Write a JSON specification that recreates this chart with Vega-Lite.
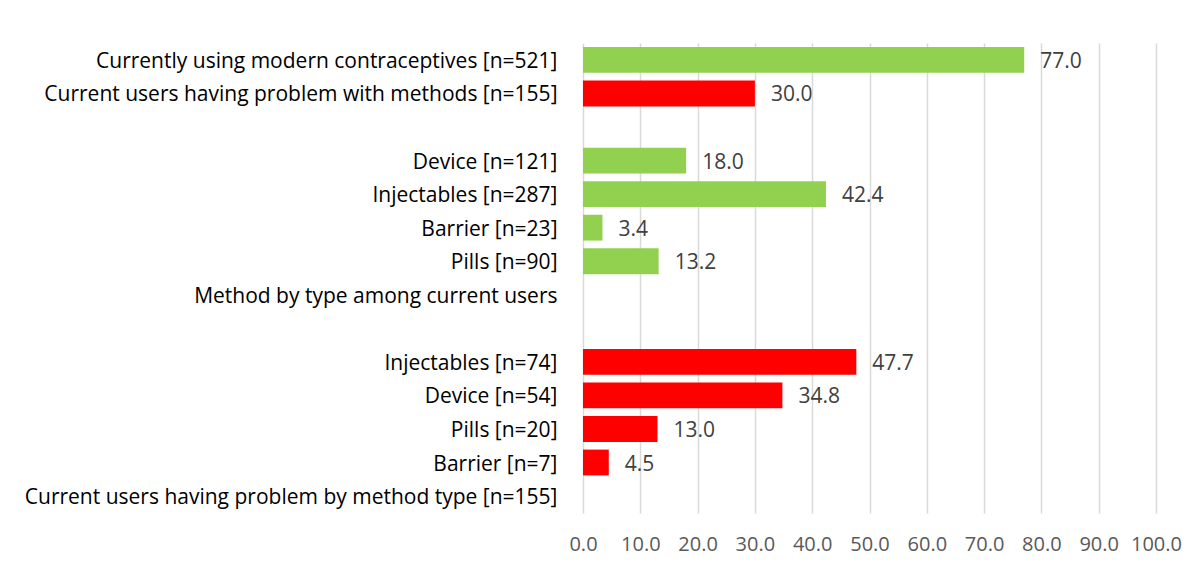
{
  "$schema": "https://vega.github.io/schema/vega-lite/v6.json",
  "autosize": "none",
  "width": 573,
  "height": 470,
  "padding": {"left": 583, "top": 43, "right": 40, "bottom": 50},
  "background": "white",
  "config": {"view": {"stroke": null}, "font": "Open Sans"},
  "data": {
    "values": [
      {"label": "Currently using modern contraceptives [n=521]", "value": 77.0, "grp": "green"},
      {"label": "Current users having problem with methods [n=155]", "value": 30.0, "grp": "red"},
      {"label": " ", "value": null, "grp": "none"},
      {"label": "Device [n=121]", "value": 18.0, "grp": "green"},
      {"label": "Injectables [n=287]", "value": 42.4, "grp": "green"},
      {"label": "Barrier [n=23]", "value": 3.4, "grp": "green"},
      {"label": "Pills [n=90]", "value": 13.2, "grp": "green"},
      {"label": "Method by type among current users", "value": null, "grp": "none"},
      {"label": "  ", "value": null, "grp": "none"},
      {"label": "Injectables [n=74]", "value": 47.7, "grp": "red"},
      {"label": "Device [n=54]", "value": 34.8, "grp": "red"},
      {"label": "Pills [n=20]", "value": 13.0, "grp": "red"},
      {"label": "Barrier [n=7]", "value": 4.5, "grp": "red"},
      {"label": "Current users having problem by method type [n=155]", "value": null, "grp": "none"}
    ]
  },
  "encoding": {
    "y": {
      "field": "label",
      "type": "nominal",
      "sort": null,
      "scale": {
        "domain": [
          "Currently using modern contraceptives [n=521]",
          "Current users having problem with methods [n=155]",
          " ",
          "Device [n=121]",
          "Injectables [n=287]",
          "Barrier [n=23]",
          "Pills [n=90]",
          "Method by type among current users",
          "  ",
          "Injectables [n=74]",
          "Device [n=54]",
          "Pills [n=20]",
          "Barrier [n=7]",
          "Current users having problem by method type [n=155]"
        ],
        "paddingInner": 0.23,
        "paddingOuter": 0.12
      },
      "axis": {
        "title": null,
        "domain": false,
        "ticks": false,
        "tickSize": 0,
        "labelPadding": 26,
        "labelOffset": 2,
        "labelFontSize": 21,
        "labelColor": "#000000",
        "labelFont": "Open Sans",
        "labelLimit": 600
      }
    },
    "x": {
      "field": "value",
      "type": "quantitative",
      "scale": {"domain": [0, 100], "nice": false},
      "axis": {
        "title": null,
        "values": [0, 10, 20, 30, 40, 50, 60, 70, 80, 90, 100],
        "format": ".1f",
        "domain": false,
        "ticks": false,
        "tickSize": 0,
        "grid": true,
        "gridColor": "#d9d9d9",
        "gridWidth": 1.5,
        "labelPadding": 21,
        "labelFontSize": 20,
        "labelColor": "#595959",
        "labelFont": "Open Sans",
        "labelFlush": false,
        "labelOverlap": false
      }
    }
  },
  "layer": [
    {
      "mark": {"type": "bar"},
      "encoding": {
        "color": {
          "field": "grp",
          "type": "nominal",
          "scale": {"domain": ["green", "red"], "range": ["#92d050", "#ff0000"]},
          "legend": null
        }
      }
    },
    {
      "mark": {"type": "text", "align": "left", "dx": 16, "dy": 2, "fontSize": 21, "color": "#404040", "font": "Open Sans"},
      "encoding": {
        "text": {"field": "value", "type": "quantitative", "format": ".1f"}
      }
    }
  ]
}
